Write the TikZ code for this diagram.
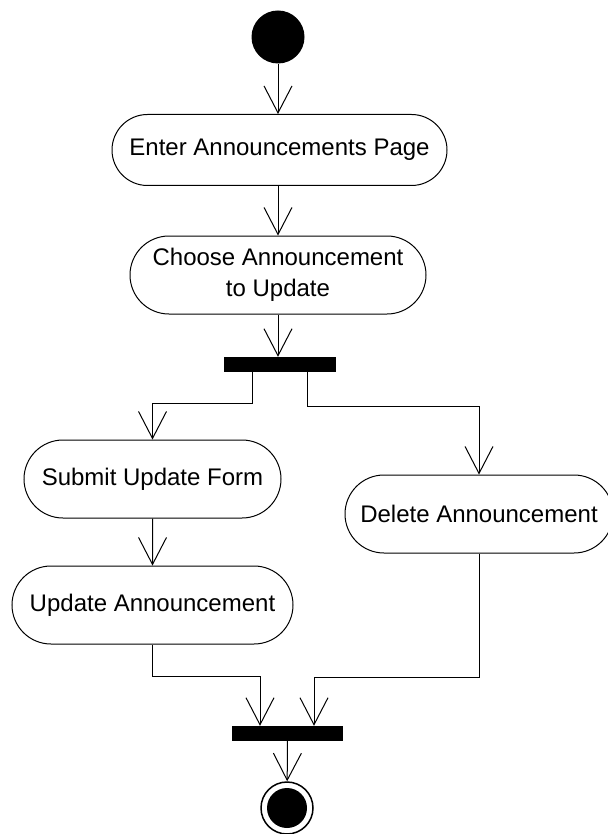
\documentclass[tikz,border=0pt]{standalone}
\usepackage{fontspec}
\setmainfont{Liberation Sans}
\usetikzlibrary{positioning}
\usetikzlibrary{shapes.misc}
\usetikzlibrary{arrows.meta}

\begin{document}
\begin{tikzpicture}[x=1pt,y=-1pt,
 act/.style={rounded rectangle,draw,line width=1pt,inner sep=0pt,minimum height=78pt,font=\fontsize{24}{31}\selectfont,align=center},
 bar/.style={rectangle,fill=black,inner sep=0pt,minimum height=15pt},
 flow/.style={line width=1pt,-{Straight Barb[length=27pt,width=28pt,line width=1pt]}}]
 \useasboundingbox (0,0) rectangle (607,834);
 \node[circle,fill=black,minimum size=53pt,inner sep=0pt] (start) at (278,37) {};
 \node[act,minimum width=335pt,minimum height=71pt] (enter) at (279.5,150) {Enter Announcements Page};
 \node[act,minimum width=296pt] (choose) at (278,275) {Choose Announcement\\to Update};
 \node[bar,minimum width=112pt] (fork) at (280,364.5) {};
 \node[act,minimum width=257pt] (submit) at (152.5,479) {Submit Update Form};
 \node[act,minimum width=281pt] (update) at (152.5,605) {Update Announcement};
 \node[act,minimum width=268pt] (delete) at (479,514) {Delete Announcement};
 \node[bar,minimum width=111pt] (join) at (287.5,733.5) {};
 \node[circle,draw,line width=1.5pt,minimum size=52pt,inner sep=0pt] (stop) at (287,808) {};
 \fill (stop.center) circle (20pt);
 \draw[flow] (start) -- (start |- enter.north);
 \draw[flow] (enter.south -| start) -- (start |- choose.north);
 \draw[flow] (choose.south) -- (choose.south |- fork.north);
 \draw[flow] ([xshift=-28pt]fork.south) -- ++(0,31) -| (submit.north);
 \draw[flow] ([xshift=27pt]fork.south) -- ++(0,34) -| (delete.north);
 \draw[flow] (submit) -- (update);
 \draw[flow] (update.south) -- ++(0,32) -| ([xshift=-27.5pt]join.north);
 \draw[flow] (delete.south) -- ++(0,124) -| ([xshift=26.5pt]join.north);
 \draw[flow] (join) -- (stop);
\end{tikzpicture}
\end{document}
